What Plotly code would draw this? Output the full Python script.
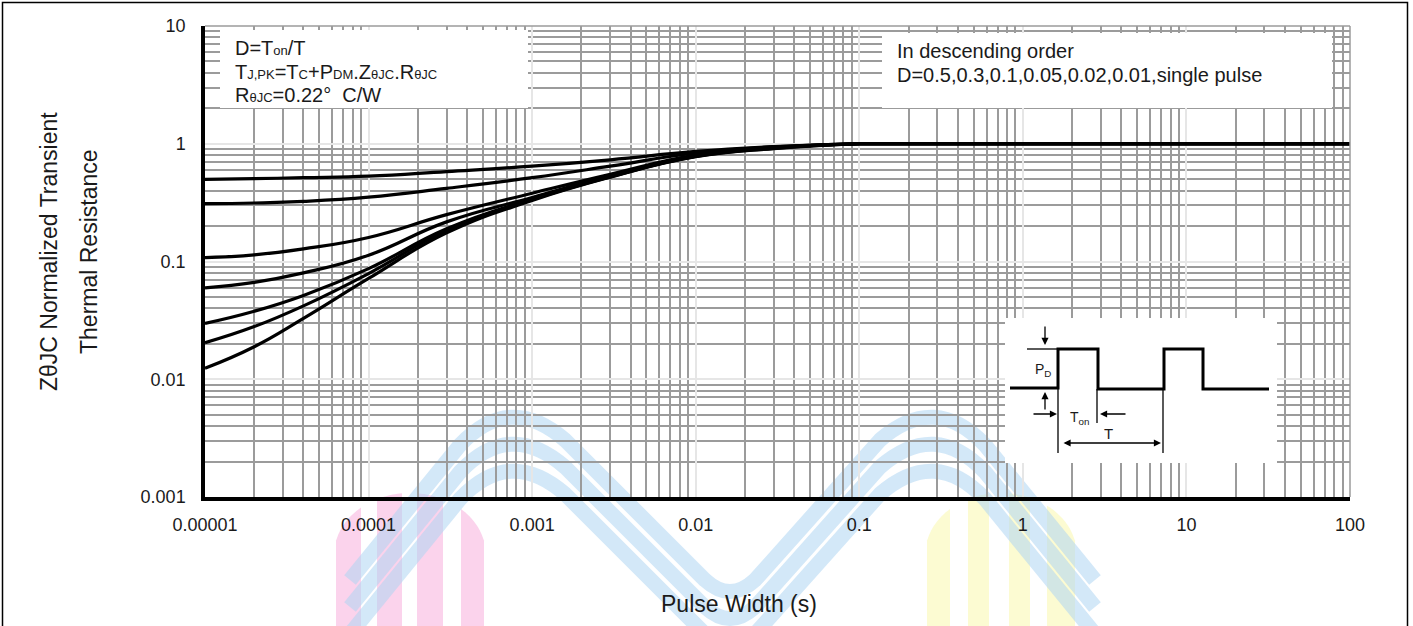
import numpy as np
import plotly.graph_objects as go

# ---------------- data ----------------
pulse_width = [1e-5, 2e-5, 4e-5, 1e-4, 3e-4, 1e-3, 3e-3, 1e-2, 3e-2, 1e-1, 1, 10, 100]
z_d050 = [0.498, 0.505, 0.515, 0.53, 0.58, 0.645, 0.73, 0.86, 0.945, 1.0, 1.0, 1.0, 1.0]
z_d030 = [0.310, 0.314, 0.324, 0.352, 0.418, 0.515, 0.645, 0.835, 0.94, 1.0, 1.0, 1.0, 1.0]
z_d010 = [0.108, 0.114, 0.128, 0.16, 0.25, 0.38, 0.55, 0.80, 0.93, 1.0, 1.0, 1.0, 1.0]
z_d005 = [0.0598, 0.0665, 0.08, 0.113, 0.217, 0.35, 0.535, 0.79, 0.925, 1.0, 1.0, 1.0, 1.0]
z_d002 = [0.0298, 0.0378, 0.0515, 0.087, 0.19, 0.34, 0.527, 0.785, 0.92, 1.0, 1.0, 1.0, 1.0]
z_d001 = [0.0204, 0.028, 0.042, 0.079, 0.183, 0.335, 0.523, 0.78, 0.915, 1.0, 1.0, 1.0, 1.0]
z_single = [0.0124, 0.0189, 0.0329, 0.0718, 0.175, 0.33, 0.52, 0.775, 0.91, 1.0, 1.0, 1.0, 1.0]
series = [z_d050, z_d030, z_d010, z_d005, z_d002, z_d001, z_single]
series_names = ["D=0.5", "D=0.3", "D=0.1", "D=0.05", "D=0.02", "D=0.01", "single pulse"]
flat_from = 9  # index of 0.1 s: curves are flat (=1) from here on

x_tickvals = [1e-5, 1e-4, 1e-3, 1e-2, 1e-1, 1, 10, 100]
x_ticktext = ["0.00001", "0.0001", "0.001", "0.01", "0.1", "1", "10", "100"]
y_tickvals = [0.001, 0.01, 0.1, 1, 10]
y_ticktext = ["0.001", "0.01", "0.1", "1", "10"]

# ---------------- layout geometry ----------------
W, H = 1413, 626
L, R, T, B = 205, 1350, 26, 497
FONT = "Liberation Sans, Arial, sans-serif"


def px(xp):
    return (xp - L) / (R - L)


def py(yp):
    return (B - yp) / (B - T)


fig = go.Figure()
for name, ys in zip(series_names, series):
    fig.add_trace(go.Scatter(x=pulse_width[:flat_from + 1], y=ys[:flat_from + 1], mode="lines", name=name,
                             line=dict(color="black", width=3.2, shape="spline", smoothing=1.3),
                             showlegend=False))
    fig.add_trace(go.Scatter(x=pulse_width[flat_from:], y=ys[flat_from:], mode="lines", name=name,
                             line=dict(color="black", width=3.2), showlegend=False))

shapes = []

# ---- watermark (decorative logo) ----
def arch_bar(a, b, cx, hw, top, vr, color):
    cy = top + vr
    xs = np.linspace(a, b, 12)
    pts = [(a, 650)]
    for x in xs:
        r = min(1.0, abs(x - cx) / hw)
        pts.append((x, cy - vr * np.sqrt(max(0.0, 1 - r * r))))
    pts.append((b, 650))
    d = "M " + " L ".join(f"{px(x):.5f},{py(y):.5f}" for x, y in pts) + " Z"
    return dict(type="path", xref="paper", yref="paper", path=d, fillcolor=color,
                line=dict(width=0), layer="below")

for a, b in [(336, 361), (377, 402), (417, 443), (461, 484)]:
    shapes.append(arch_bar(a, b, 410, 76, 493, 62, "#fbd3ec"))
for a, b in [(927, 950), (968, 989), (1009, 1030), (1047, 1075)]:
    shapes.append(arch_bar(a, b, 1001, 76, 493, 62, "#fcfbd2"))

for k in range(3):
    d0 = 27 * k
    pts = [("M", (350, 580 + d0)), ("L", (460, 445 + d0)), ("Q", (510, 392 + d0), (565, 440 + d0)),
           ("L", (705, 580 + d0)), ("Q", (730, 603 + d0), (755, 580 + d0)),
           ("L", (880, 440 + d0)), ("Q", (935, 392 + d0), (985, 445 + d0)), ("L", (1095, 580 + d0))]
    path = ""
    for seg in pts:
        cmd = seg[0]
        coords = " ".join(f"{px(x):.5f},{py(y):.5f}" for x, y in seg[1:])
        path += f"{cmd} {coords} "
    shapes.append(dict(type="path", xref="paper", yref="paper", path=path,
                       line=dict(color="rgba(175,213,243,0.55)", width=15), layer="below"))

# ---- frame around the whole picture ----
shapes.append(dict(type="rect", xref="paper", yref="paper", x0=px(2.5), x1=px(1407.5),
                   y0=py(700), y1=py(2.5), line=dict(color="black", width=1.5)))

# top / right plot edges (gray)
shapes.append(dict(type="line", xref="paper", yref="paper", x0=0, x1=1, y0=1, y1=1,
                   line=dict(color="#9b9b9b", width=1.5)))
shapes.append(dict(type="line", xref="paper", yref="paper", x0=1, x1=1, y0=0, y1=1,
                   line=dict(color="#9b9b9b", width=1.5)))

# ---- white boxes behind texts ----
for x0, x1, y0, y1 in [(220, 528, 30, 108), (882, 1332, 33, 108), (1005, 1277, 318, 463)]:
    shapes.append(dict(type="rect", xref="paper", yref="paper", x0=px(x0), x1=px(x1),
                       y0=py(y1), y1=py(y0), fillcolor="white", line=dict(width=0), layer="above"))

# ---- inset waveform ----
wave = [(1010, 388), (1058, 388), (1058, 349), (1098, 349), (1098, 389), (1164, 389),
        (1164, 349), (1203, 349), (1203, 389), (1269, 389)]
shapes.append(dict(type="path", xref="paper", yref="paper", layer="above",
                   path="M " + " L ".join(f"{px(x):.5f},{py(y):.5f}" for x, y in wave),
                   line=dict(color="black", width=3)))
for (x0, y0), (x1, y1) in [((1027, 349), (1058, 349)), ((1058, 388), (1058, 453)),
                           ((1097, 389), (1097, 423)), ((1163, 389), (1163, 453))]:
    shapes.append(dict(type="line", xref="paper", yref="paper", layer="above",
                       x0=px(x0), y0=py(y0), x1=px(x1), y1=py(y1),
                       line=dict(color="black", width=1.3)))

annotations = []


def arrow(hx, hy, tx, ty, side="end"):
    annotations.append(dict(xref="paper", yref="paper", x=px(hx), y=py(hy),
                            ax=tx - hx, ay=ty - hy, axref="pixel", ayref="pixel",
                            text="", showarrow=True, arrowhead=2, arrowsize=1.1,
                            arrowwidth=1.3, arrowcolor="black", arrowside=side, standoff=0))

arrow(1045, 345, 1045, 325)
arrow(1045, 392, 1045, 411)
arrow(1057, 414, 1032, 414)
arrow(1100, 414, 1127, 414)
arrow(1161, 443, 1062, 443, side="end+start")


def label(text, x, y, size, anchor="left"):
    annotations.append(dict(xref="paper", yref="paper", x=px(x), y=py(y), text=text,
                            showarrow=False, xanchor=anchor, yanchor="middle",
                            font=dict(family=FONT, size=size, color="#1a1a1a")))

label("P<sub>D</sub>", 1033, 370, 14)
label("T<sub>on</sub>", 1068, 418, 14)
label("T", 1108, 433, 15, "center")

# ---- text boxes ----
sub = '<span style="font-size:13px">'
label(f"D=T{sub}on</span>/T", 233, 48, 20)
label(f"T{sub}J,PK</span>=T{sub}C</span>+P{sub}DM</span>.Z{sub}θJC</span>.R{sub}θJC</span>", 233, 72, 20)
label(f"R{sub}θJC</span>=0.22°  C/W", 233, 95, 20)
label("In descending order", 895, 51, 20)
label("D=0.5,0.3,0.1,0.05,0.02,0.01,single pulse", 895, 75, 20)

# ---- axis titles ----
annotations.append(dict(xref="paper", yref="paper", x=px(49), y=py(252), text="ZθJC Normalized Transient",
                        textangle=-90, showarrow=False, xanchor="center", yanchor="middle",
                        font=dict(family=FONT, size=23, color="#1a1a1a")))
annotations.append(dict(xref="paper", yref="paper", x=px(89), y=py(252), text="Thermal Resistance",
                        textangle=-90, showarrow=False, xanchor="center", yanchor="middle",
                        font=dict(family=FONT, size=23, color="#1a1a1a")))
annotations.append(dict(xref="paper", yref="paper", x=px(739), y=py(604), text="Pulse Width (s)",
                        showarrow=False, xanchor="center", yanchor="middle",
                        font=dict(family=FONT, size=23, color="#1a1a1a")))

grid_minor = dict(dtick="D1", showgrid=True, gridcolor="#9b9b9b", gridwidth=1.5, ticks="")

fig.update_layout(
    width=W, height=H,
    margin=dict(l=L, r=W - R, t=T, b=H - B, pad=0),
    paper_bgcolor="white", plot_bgcolor="rgba(0,0,0,0)",
    font=dict(family=FONT, size=18, color="#1a1a1a"),
    shapes=shapes, annotations=annotations, showlegend=False,
    xaxis=dict(type="log", range=[-5, 2], tickmode="array", tickvals=x_tickvals, ticktext=x_ticktext,
               showgrid=True, gridcolor="#e6e6e6", gridwidth=1.5, minor=grid_minor,
               showline=True, linecolor="black", linewidth=3.5, ticks="", ticklabelstandoff=9,
               zeroline=False, tickfont=dict(size=18)),
    yaxis=dict(type="log", range=[-3, 1], tickmode="array", tickvals=y_tickvals, ticktext=y_ticktext,
               showgrid=True, gridcolor="#e6e6e6", gridwidth=1.5, minor=grid_minor,
               showline=True, linecolor="black", linewidth=3.5, ticks="", ticklabelstandoff=12,
               zeroline=False, tickfont=dict(size=18)),
)

fig.write_html("out.html", config={"displayModeBar": False},
               post_script="document.body.style.margin='0';document.body.style.padding='0';")
